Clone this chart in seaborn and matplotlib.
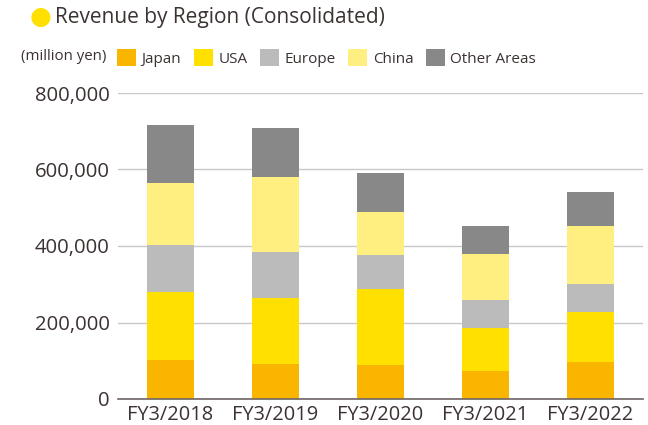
import numpy as np
import pandas as pd
import matplotlib
matplotlib.use("Agg")
import matplotlib.pyplot as plt
from matplotlib.patches import Patch
from matplotlib.ticker import FuncFormatter
import seaborn as sns

# values (million yen)
years = ["FY3/2018", "FY3/2019", "FY3/2020", "FY3/2021", "FY3/2022"]
japan = [103000, 91500, 89000, 73000, 97000]
usa = [177000, 172500, 198500, 112500, 130000]
europe = [123000, 120000, 88500, 73500, 73500]
china = [162000, 196000, 113000, 120000, 151500]
other = [151000, 128000, 102000, 73000, 89000]

regions = ["Japan", "USA", "Europe", "China", "Other Areas"]
colors = ["#F9B500", "#FFE000", "#BABBBA", "#FFEE80", "#888888"]
text_col = "#3C3232"

df = pd.DataFrame({"year": years, "Japan": japan, "USA": usa, "Europe": europe,
                   "China": china, "Other Areas": other})
cum = df[regions].cumsum(axis=1)

sns.set_theme(style="white")
plt.rcParams['font.family'] = ['Open Sans', 'DejaVu Sans']

fig = plt.figure(figsize=(6.48, 4.25), dpi=100)
ax = fig.add_axes([118 / 648, 1 - 399 / 425, 525 / 648, 306 / 425])

# draw stacks top-down so each lower layer covers the one above
for reg, col in reversed(list(zip(regions, colors))):
    sns.barplot(x=df["year"], y=cum[reg], color=col, width=0.45,
                saturation=1, ax=ax, linewidth=0)

ax.set_ylim(0, 800000)
ax.set_xlim(-0.5, 4.5)
ax.set_yticks([0, 200000, 400000, 600000, 800000])
ax.yaxis.set_major_formatter(FuncFormatter(lambda v, p: f"{int(v):,}"))
ax.grid(axis="y", color="#C8C8C8", linewidth=1)
ax.set_axisbelow(True)
ax.set_xlabel("")
ax.set_ylabel("")
for s in ["top", "right", "left"]:
    ax.spines[s].set_visible(False)
ax.spines["bottom"].set_color("#6E6464")
ax.spines["bottom"].set_linewidth(1.2)
ax.tick_params(axis="y", length=0, labelsize=14.6, colors=text_col, pad=6)
ax.tick_params(axis="x", length=0, labelsize=14.4, colors=text_col, pad=4)

# title with yellow dot
fig.text(40.5 / 648, 1 - 17 / 425, "\u25CF", color="#FFE000", fontsize=18,
         va="center", ha="center", family="DejaVu Sans")
fig.text(55 / 648, 1 - 17 / 425, "Revenue by Region (Consolidated)",
         color=text_col, fontsize=15, va="center", ha="left")

# legend row
fig.text(21 / 648, 1 - 57 / 425, "(million yen)", color=text_col,
         fontsize=10.8, va="center", ha="left")
handles = [Patch(facecolor=c, edgecolor="none", label=r) for r, c in zip(regions, colors)]
leg = fig.legend(handles=handles, loc="center left",
                 bbox_to_anchor=(117 / 648, 1 - 58 / 425), ncol=5, frameon=False,
                 fontsize=11, handlelength=1.25, handleheight=1.25,
                 handletextpad=0.37, columnspacing=0.8, borderpad=0,
                 borderaxespad=0)
for t in leg.get_texts():
    t.set_color(text_col)

fig.savefig("out.png", dpi=100)
